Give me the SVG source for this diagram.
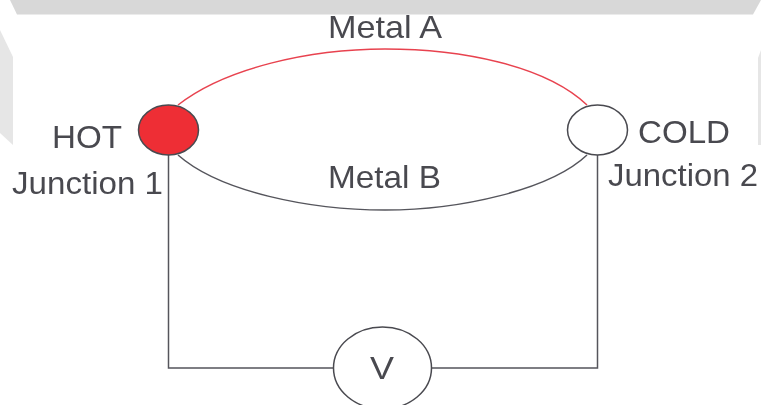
<svg xmlns="http://www.w3.org/2000/svg" width="761" height="405" viewBox="0 0 761 405">
<defs><filter id="soft" x="-2%" y="-2%" width="104%" height="104%"><feGaussianBlur stdDeviation="0.45"/></filter></defs>
<style>
text{font-family:"Liberation Sans",Arial,sans-serif;font-size:30.500px;fill:#4a4a50}
.w{fill:#d8d8d8}
.l{fill:#e6e6e6}
.wire{fill:none;stroke:#55555c;stroke-width:1.500}
.node{stroke:#4a4a50;stroke-width:1.500}
</style>
<rect width="761" height="405" fill="#fff"/>
<g id="watermark">
<polygon class="w" points="10,0 17,14.500 753,14.500 761,0"/>
<polygon class="l" points="0,30 13,57 13,145 0,133"/>
<polygon class="l" points="761,50 758,58 758,145 761,145"/>
</g>
<g filter="url(#soft)">
<g id="connectors">
<path d="M178,105C225,68 310,49 385,49C460,49 545,65 587,105" fill="none" stroke="#e8434f" stroke-width="1.500"/>
<path d="M178,155C220,192 310,210 385,210C460,210 550,190 587,155" class="wire"/>
<path d="M168.500,155V368H334M432,368H597.500V155" class="wire"/>
</g>
<g id="hot"><ellipse class="node" cx="168.500" cy="130" rx="30" ry="25" fill="#ee2e35"/><text x="52" y="148" textLength="70" lengthAdjust="spacingAndGlyphs">HOT</text><text x="12" y="194" textLength="151" lengthAdjust="spacingAndGlyphs">Junction 1</text></g>
<g id="cold"><ellipse class="node" cx="597.500" cy="130" rx="30" ry="25" fill="#fff"/><text x="638" y="143" textLength="92" lengthAdjust="spacingAndGlyphs">COLD</text><text x="608" y="186" textLength="150" lengthAdjust="spacingAndGlyphs">Junction 2</text></g>
<g id="metal-a"><text x="328" y="38" textLength="114" lengthAdjust="spacingAndGlyphs">Metal A</text></g>
<g id="metal-b"><text x="328" y="188" textLength="113" lengthAdjust="spacingAndGlyphs">Metal B</text></g>
<g id="voltmeter"><ellipse class="node" cx="382.500" cy="368" rx="49" ry="41" fill="#fff"/><text x="370" y="379" textLength="24" lengthAdjust="spacingAndGlyphs">V</text></g>
</g>
</svg>
